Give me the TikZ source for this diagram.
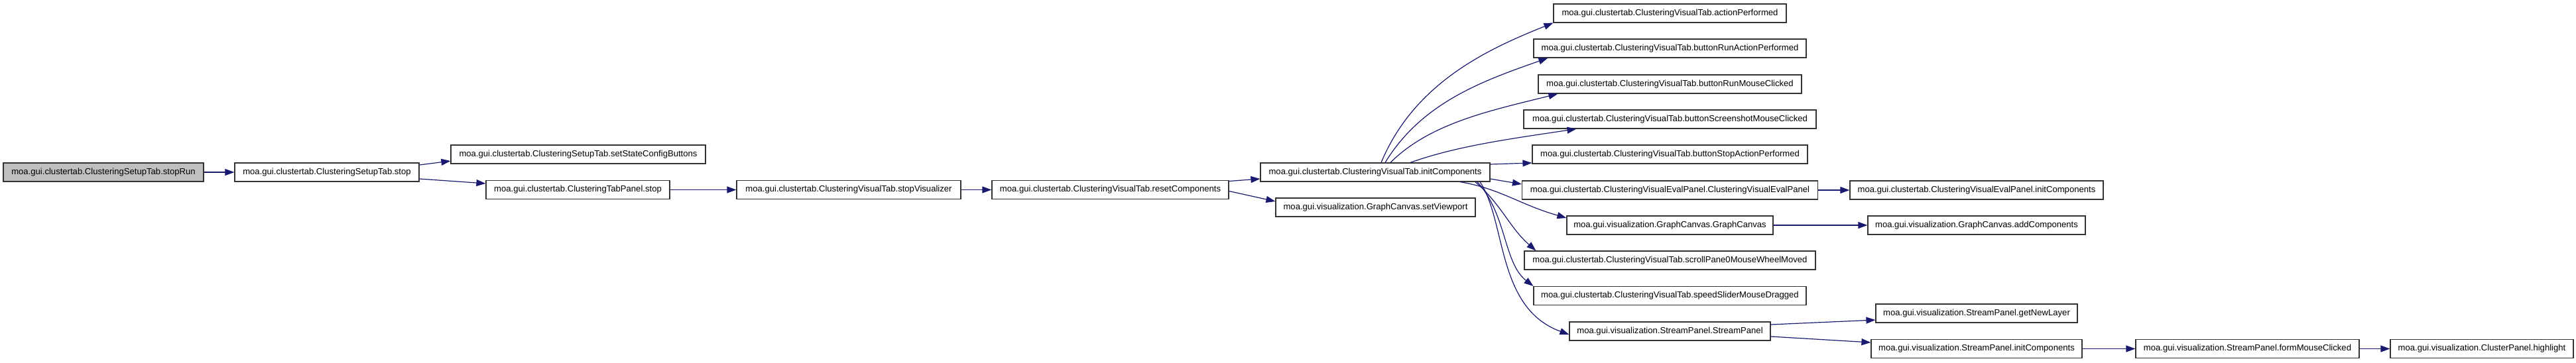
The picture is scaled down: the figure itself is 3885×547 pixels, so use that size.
\documentclass[tikz,border=0pt]{standalone}
\usepackage{fontspec}
\setmainfont{Liberation Sans}
\usetikzlibrary{arrows.meta}
\definecolor{edgecol}{HTML}{191970}
\tikzset{
 fn/.style={draw=black!80, line width=1.2pt, minimum height=28pt, inner sep=0pt, font=\fontsize{13.1}{15}\selectfont, fill=white},
 edge/.style={draw=edgecol, line width=1.2pt, -{Triangle[length=14pt,width=10pt]}},
}
\begin{document}
\begin{tikzpicture}[x=1pt,y=-1pt]
\useasboundingbox (0,0) rectangle (3885,547);
% column 0-3
\node[fn, fill=black!25, minimum width=302pt] (stopRun) at (156,260) {moa.gui.clustertab.ClusteringSetupTab.stopRun};
\node[fn, minimum width=278pt] (setupStop) at (493,260) {moa.gui.clustertab.ClusteringSetupTab.stop};
\node[fn, minimum width=384pt] (setState) at (872,233) {moa.gui.clustertab.ClusteringSetupTab.setStateConfigButtons};
\node[fn, minimum width=277pt] (tabStop) at (871.5,286.5) {moa.gui.clustertab.ClusteringTabPanel.stop};
\node[fn, minimum width=338pt] (stopVis) at (1280,286.5) {moa.gui.clustertab.ClusteringVisualTab.stopVisualizer};
\node[fn, minimum width=357pt] (reset) at (1674.5,286.5) {moa.gui.clustertab.ClusteringVisualTab.resetComponents};
\node[fn, minimum width=346pt] (initC) at (2074,260) {moa.gui.clustertab.ClusteringVisualTab.initComponents};
\node[fn, minimum width=301pt] (setViewport) at (2074.5,313) {moa.gui.visualization.GraphCanvas.setViewport};
% right column
\node[fn, minimum width=351pt] (actPerf) at (2518.5,20) {moa.gui.clustertab.ClusteringVisualTab.actionPerformed};
\node[fn, minimum width=411pt] (runAct) at (2518.5,73) {moa.gui.clustertab.ClusteringVisualTab.buttonRunActionPerformed};
\node[fn, minimum width=397pt] (runMouse) at (2518.5,127) {moa.gui.clustertab.ClusteringVisualTab.buttonRunMouseClicked};
\node[fn, minimum width=441pt] (shot) at (2518.5,180) {moa.gui.clustertab.ClusteringVisualTab.buttonScreenshotMouseClicked};
\node[fn, minimum width=415pt] (stopAct) at (2518.5,233) {moa.gui.clustertab.ClusteringVisualTab.buttonStopActionPerformed};
\node[fn, minimum width=446pt] (evalPanel) at (2518.5,287) {moa.gui.clustertab.ClusteringVisualEvalPanel.ClusteringVisualEvalPanel};
\node[fn, minimum width=311pt] (graphCanvas) at (2518.5,340) {moa.gui.visualization.GraphCanvas.GraphCanvas};
\node[fn, minimum width=439pt] (scroll) at (2518.5,393) {moa.gui.clustertab.ClusteringVisualTab.scrollPane0MouseWheelMoved};
\node[fn, minimum width=411pt] (slider) at (2518.5,446.5) {moa.gui.clustertab.ClusteringVisualTab.speedSliderMouseDragged};
\node[fn, minimum width=303pt] (streamPanel) at (2518.5,500) {moa.gui.visualization.StreamPanel.StreamPanel};
% next column
\node[fn, minimum width=382pt] (evalInit) at (2981,287) {moa.gui.clustertab.ClusteringVisualEvalPanel.initComponents};
\node[fn, minimum width=328pt] (addComp) at (2981,340) {moa.gui.visualization.GraphCanvas.addComponents};
\node[fn, minimum width=304pt] (newLayer) at (2981,473) {moa.gui.visualization.StreamPanel.getNewLayer};
\node[fn, minimum width=318pt] (streamInit) at (2981,526.5) {moa.gui.visualization.StreamPanel.initComponents};
\node[fn, minimum width=337pt] (formMouse) at (3389.5,526.5) {moa.gui.visualization.StreamPanel.formMouseClicked};
\node[fn, minimum width=276pt] (highlight) at (3743,526.5) {moa.gui.visualization.ClusterPanel.highlight};
% edges
\draw[edge] (stopRun) -- (setupStop);
\draw[edge] ([yshift=11pt]setupStop.east) -- ([yshift=-10pt]setState.west);
\draw[edge] ([yshift=-10pt]setupStop.east) -- ([yshift=9.5pt]tabStop.west);
\draw[edge] (tabStop) -- (stopVis);
\draw[edge] (stopVis) -- (reset);
\draw[edge] ([yshift=13pt]reset.east) -- ([yshift=-10pt]initC.west);
\draw[edge] ([yshift=-2pt]reset.east) -- ([yshift=9pt]setViewport.west);
\draw[edge] ([xshift=9pt]initC.north) .. controls +(50,-120) and +(-100,40) .. (actPerf.south west);
\draw[edge] ([xshift=15pt]initC.north) .. controls +(55,-90) and +(-100,35) .. ([xshift=22pt]runAct.south west);
\draw[edge] ([xshift=23pt]initC.north) .. controls +(60,-60) and +(-100,25) .. ([xshift=30pt]runMouse.south west);
\draw[edge] ([xshift=53pt]initC.north) .. controls +(70,-25) and +(-100,15) .. ([xshift=80pt]shot.south west);
\draw[edge] ([yshift=12pt]initC.east) -- ([yshift=-13pt]stopAct.west);
\draw[edge] ([yshift=-10pt]initC.east) -- ([yshift=9pt]evalPanel.west);
\draw[edge] ([xshift=128pt]initC.south) .. controls +(60,10) and +(-70,-20) .. ([yshift=11pt]graphCanvas.west);
\draw[edge] ([xshift=151pt]initC.south) .. controls +(40,35) and +(-40,-35) .. ([xshift=18pt]scroll.north west);
\draw[edge] ([xshift=154pt]initC.south) .. controls +(45,50) and +(-45,-35) .. (slider.north west);
\draw[edge] ([xshift=158pt]initC.south) .. controls +(40,60) and +(-110,-40) .. ([yshift=-5pt]streamPanel.west);
\draw[edge] (evalPanel) -- (evalInit);
\draw[edge] (graphCanvas) -- (addComp);
\draw[edge] ([yshift=10pt]streamPanel.east) -- ([yshift=-10pt]newLayer.west);
\draw[edge] ([yshift=-8pt]streamPanel.east) -- ([yshift=9.5pt]streamInit.west);
\draw[edge] (streamInit) -- (formMouse);
\draw[edge] (formMouse) -- (highlight);
\end{tikzpicture}
\end{document}
